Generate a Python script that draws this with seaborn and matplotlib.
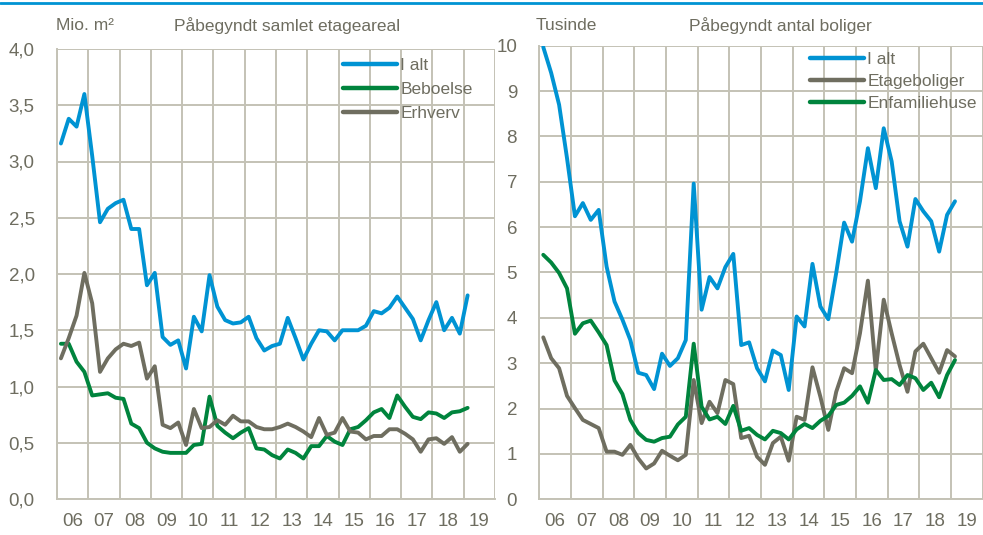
import numpy as np
import pandas as pd
import seaborn as sns
import matplotlib.pyplot as plt
from matplotlib.lines import Line2D

# quarterly data 2006Q1 - 2019Q1
quarters = pd.period_range("2006Q1", "2019Q1", freq="Q")

# Påbegyndt samlet etageareal, mio. m2
areal_i_alt = [3.16, 3.38, 3.31, 3.60, 3.05, 2.46, 2.58, 2.63, 2.66, 2.40, 2.40, 1.90, 2.01, 1.44, 1.37, 1.41, 1.16, 1.62, 1.49,
               1.99, 1.71, 1.59, 1.56, 1.57, 1.62, 1.43, 1.32, 1.36, 1.38, 1.61, 1.43, 1.24, 1.38, 1.50, 1.49, 1.41, 1.50,
               1.50, 1.50, 1.54, 1.67, 1.65, 1.70, 1.80, 1.70, 1.60, 1.41, 1.59, 1.75, 1.50, 1.61, 1.47, 1.81]
areal_beboelse = [1.38, 1.38, 1.22, 1.13, 0.92, 0.93, 0.94, 0.90, 0.89, 0.67, 0.63, 0.50, 0.45, 0.42, 0.41, 0.41, 0.41, 0.48, 0.49,
                  0.91, 0.65, 0.59, 0.54, 0.59, 0.63, 0.45, 0.44, 0.39, 0.36, 0.44, 0.41, 0.36, 0.47, 0.47, 0.56, 0.51, 0.48,
                  0.62, 0.64, 0.70, 0.77, 0.80, 0.72, 0.92, 0.82, 0.73, 0.71, 0.77, 0.76, 0.72, 0.77, 0.78, 0.81]
areal_erhverv = [1.25, 1.43, 1.63, 2.01, 1.74, 1.13, 1.25, 1.33, 1.38, 1.36, 1.39, 1.07, 1.18, 0.66, 0.63, 0.68, 0.48, 0.80, 0.63,
                 0.64, 0.70, 0.66, 0.74, 0.69, 0.69, 0.64, 0.62, 0.62, 0.64, 0.67, 0.64, 0.60, 0.55, 0.72, 0.57, 0.59, 0.72,
                 0.60, 0.59, 0.53, 0.56, 0.56, 0.62, 0.62, 0.58, 0.53, 0.42, 0.53, 0.54, 0.49, 0.55, 0.42, 0.49]

# Påbegyndt antal boliger, tusinde
boliger_i_alt = [9.97, 9.40, 8.70, 7.52, 6.24, 6.53, 6.16, 6.38, 5.13, 4.36, 3.96, 3.51, 2.79, 2.74, 2.43, 3.21, 2.94, 3.11,
                 3.51, 6.96, 4.18, 4.90, 4.65, 5.12, 5.41, 3.40, 3.46, 2.89, 2.60, 3.28, 3.18, 2.41, 4.03, 3.81, 5.19, 4.25,
                 3.97, 4.99, 6.10, 5.68, 6.57, 7.74, 6.86, 8.18, 7.45, 6.13, 5.57, 6.62, 6.35, 6.13, 5.46, 6.27, 6.57]
etageboliger = [3.57, 3.11, 2.89, 2.28, 2.01, 1.75, 1.66, 1.57, 1.05, 1.05, 0.98, 1.20, 0.90, 0.68, 0.79, 1.07, 0.96, 0.86,
                0.98, 2.63, 1.68, 2.15, 1.90, 2.63, 2.54, 1.35, 1.40, 0.94, 0.76, 1.24, 1.38, 0.85, 1.82, 1.75, 2.91, 2.26,
                1.53, 2.37, 2.89, 2.78, 3.66, 4.82, 2.84, 4.40, 3.66, 2.96, 2.37, 3.26, 3.43, 3.11, 2.79, 3.29, 3.15]
enfamiliehuse = [5.39, 5.22, 4.99, 4.65, 3.65, 3.88, 3.94, 3.68, 3.40, 2.62, 2.32, 1.75, 1.46, 1.31, 1.27, 1.35, 1.38, 1.65,
                 1.82, 3.43, 2.04, 1.76, 1.82, 1.66, 2.06, 1.51, 1.57, 1.42, 1.32, 1.51, 1.46, 1.32, 1.54, 1.66, 1.57, 1.73,
                 1.84, 2.08, 2.13, 2.28, 2.49, 2.13, 2.85, 2.63, 2.65, 2.52, 2.74, 2.67, 2.41, 2.57, 2.25, 2.74, 3.07]

years = list(range(2006, 2021))
year_labels = ["06", "07", "08", "09", "10", "11", "12", "13", "14", "15", "16", "17", "18", "19"]

blue = "#0093D3"
green = "#00843D"
grey = "#6F6E60"
grid_c = "#C4C2B6"
text_c = "#6E6D60"
fs = 12.5

sns.set_style("white")
plt.rcParams["font.family"] = ["Liberation Sans", "DejaVu Sans"]
plt.rcParams["font.size"] = fs

# x position = middle of the quarter
xq = quarters.year + (quarters.quarter - 0.5) / 4

df_areal = pd.DataFrame({"x": xq, "I alt": areal_i_alt, "Beboelse": areal_beboelse, "Erhverv": areal_erhverv})
df_areal = df_areal.melt(id_vars="x", var_name="serie", value_name="v")
df_bol = pd.DataFrame({"x": xq, "I alt": boliger_i_alt, "Etageboliger": etageboliger, "Enfamiliehuse": enfamiliehuse})
df_bol = df_bol.melt(id_vars="x", var_name="serie", value_name="v")

fig = plt.figure(figsize=(9.83, 5.35), dpi=100)
W, H = 983, 535
ax1 = fig.add_axes([57 / W, 1 - 499 / H, 438 / W, 450 / H])
ax2 = fig.add_axes([539.3 / W, 1 - 499.3 / H, 443.4 / W, 453.6 / H])

sns.lineplot(data=df_areal, x="x", y="v", hue="serie", hue_order=["I alt", "Beboelse", "Erhverv"],
             palette=[blue, green, grey], linewidth=2.8, ax=ax1)
sns.lineplot(data=df_bol, x="x", y="v", hue="serie", hue_order=["I alt", "Etageboliger", "Enfamiliehuse"],
             palette=[blue, grey, green], linewidth=2.8, ax=ax2)

def style(ax, yticks, ylabels):
    ax.set_xlim(2006, 2020)
    ax.set_ylim(yticks[0], yticks[-1])
    ax.set_xticks(years, labels=[""] * len(years))
    ax.set_xticks([y + 0.5 for y in years[:-1]], labels=year_labels, minor=True)
    ax.set_yticks(yticks, labels=ylabels)
    ax.grid(True, which="major", color=grid_c, linewidth=1.4)
    ax.tick_params(which="both", length=0, colors=text_c, labelsize=fs + 1)
    ax.tick_params(axis="y", pad=16)
    ax.tick_params(axis="x", which="minor", pad=10)
    ax.set_xlabel("")
    ax.set_ylabel("")
    for s in ["top", "right"]:
        ax.spines[s].set_visible(False)
    for s in ["left", "bottom"]:
        ax.spines[s].set_color(grid_c)
        ax.spines[s].set_linewidth(1.4)
    ax.set_axisbelow(True)

style(ax1, [0, 0.5, 1, 1.5, 2, 2.5, 3, 3.5, 4],
      ["0,0", "0,5", "1,0", "1,5", "2,0", "2,5", "3,0", "3,5", "4,0"])
style(ax2, list(range(0, 11)), [str(v) for v in range(0, 11)])

def legend(ax, x, y, spacing):
    handles, labels = ax.get_legend_handles_labels()
    for h in handles:
        h.set_linewidth(3.2)
    leg = ax.legend(handles, labels, loc="upper left", bbox_to_anchor=(x / W, 1 - y / H),
                    bbox_transform=fig.transFigure, frameon=False, fontsize=fs,
                    handlelength=3.1, handletextpad=0.2, labelspacing=spacing, borderpad=0,
                    borderaxespad=0)
    for t in leg.get_texts():
        t.set_color(text_c)

legend(ax1, 343, 58, 0.5)
legend(ax2, 810, 52, 0.38)

fig.text(56 / W, 1 - 26 / H, "Mio. m²", color=text_c, fontsize=fs, va="center")
fig.text(174 / W, 1 - 26 / H, "Påbegyndt samlet etageareal", color=text_c, fontsize=fs, va="center")
fig.text(536 / W, 1 - 26 / H, "Tusinde", color=text_c, fontsize=fs, va="center")
fig.text(689 / W, 1 - 26 / H, "Påbegyndt antal boliger", color=text_c, fontsize=fs, va="center")

fig.add_artist(Line2D([0, 1], [1 - 2.5 / H, 1 - 2.5 / H], color=blue, linewidth=2, transform=fig.transFigure))

fig.savefig("out.png", dpi=100)
